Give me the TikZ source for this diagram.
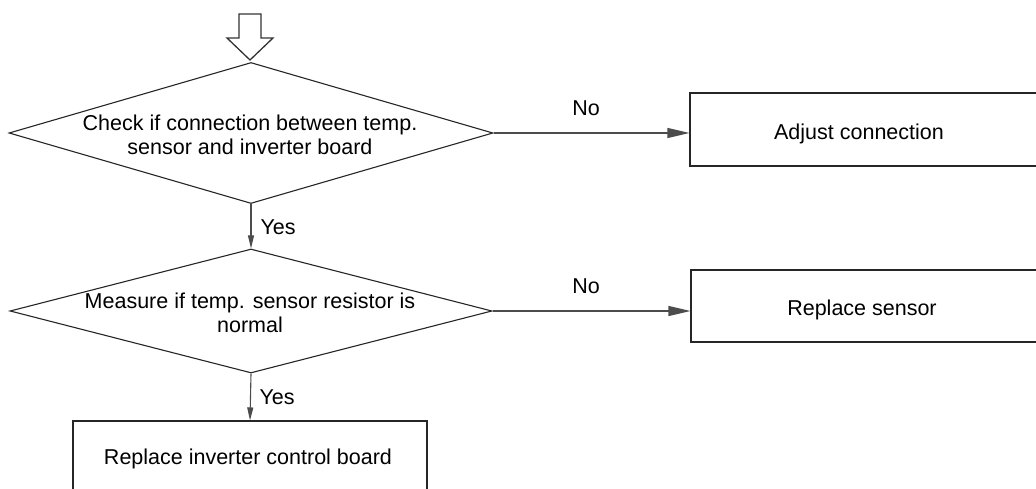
\documentclass[tikz,border=0pt]{standalone}
\usepackage{fontspec}
\setmainfont{Liberation Sans}
\usetikzlibrary{shapes.geometric,arrows.meta}
\begin{document}
\begin{tikzpicture}[x=1pt,y=-1pt,line width=1.1pt,
  dia/.style={draw=black!85,shape=diamond,inner sep=0pt},
  box/.style={draw=black!85,rectangle,inner sep=0pt},
  txt/.style={font=\fontsize{21.5}{24}\selectfont,align=center,inner sep=0pt},
  lbl/.style={font=\fontsize{21.5}{24}\selectfont,inner sep=0pt},
  hconn/.style={draw=black!70,-{Triangle[length=22pt,width=10pt]}},
  vconn/.style={draw=black!70,-{Triangle[length=13pt,width=6pt]}},
  blockarrow/.style={draw=black!80,line width=1.3pt,fill=white}]
\useasboundingbox (0,0) rectangle (1036,489);
\fill[white] (0,0) rectangle (1036,489);
% entry block arrow
\draw[blockarrow] (239,14) -- (261,14) -- (261,38) -- (273,38) -- (250,60) -- (227,38) -- (239,38) -- cycle;
% decisions
\node[dia,minimum width=484pt,minimum height=141pt] (d1) at (251,133) {};
\node[txt] (t1) at (250,135) {Check if connection between temp.\\sensor and inverter board};
\node[dia,minimum width=482pt,minimum height=124pt] (d2) at (251,311) {};
\node[txt] (t2) at (250,313) {Measure if temp. sensor resistor is\\normal};
% boxes
\node[box,minimum width=362pt,minimum height=73pt] (b1) at (871,129.5) {};
\node[txt,anchor=base] (bt1) at (859,139.5) {Adjust connection};
\node[box,minimum width=362pt,minimum height=72pt] (b2) at (872,306) {};
\node[txt,anchor=base] (bt2) at (862,315) {Replace sensor};
\node[box,minimum width=354pt,minimum height=72pt] (b3) at (250,457) {};
\node[txt,anchor=base] (bt3) at (248,464.5) {Replace inverter control board};
% connectors
\draw[hconn] (d1.east) -- (d1.east -| b1.west);
\draw[hconn] (d2.east) -- (d2.east -| b2.west);
\draw[vconn] (d1.south) -- (d2.north);
\draw[vconn] (d2.south) -- (b3.north);
% labels
\node[lbl] (no1) at (586,108) {No};
\node[lbl] (no2) at (586,286) {No};
\node[lbl,anchor=west] (yes1) at (260,227) {Yes};
\node[lbl,anchor=west] (yes2) at (259,397) {Yes};
\end{tikzpicture}
\end{document}
